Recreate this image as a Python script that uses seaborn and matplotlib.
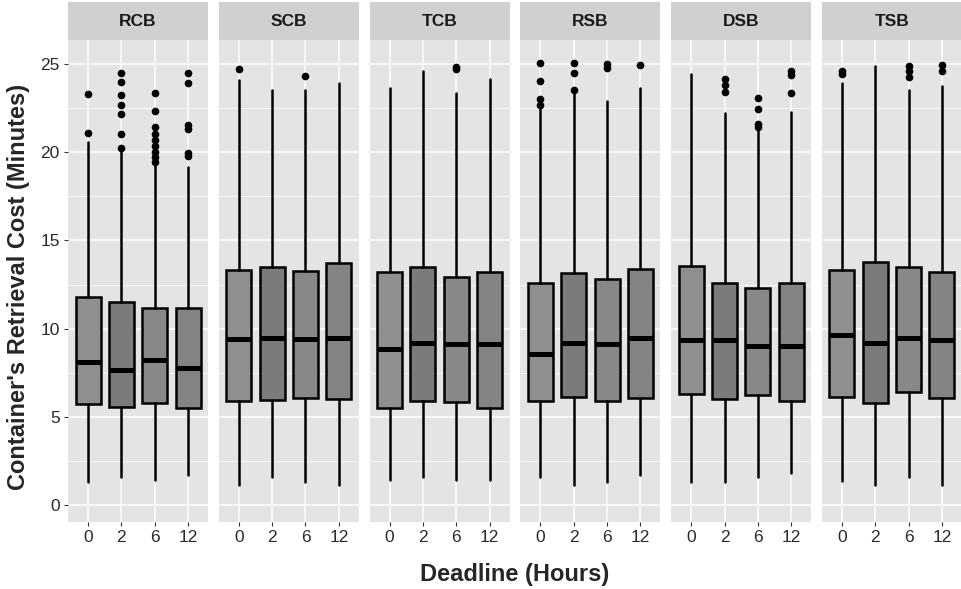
import matplotlib
matplotlib.use('Agg')
import matplotlib.pyplot as plt
from matplotlib.patches import Rectangle
import seaborn as sns

# Retrieval cost summary per method (rows) and deadline (columns)
methods = ['RCB', 'SCB', 'TCB', 'RSB', 'DSB', 'TSB']
deadlines = ['0', '2', '6', '12']

medians = [
    [8.09, 7.65, 8.22, 7.75],
    [9.39, 9.45, 9.39, 9.45],
    [8.83, 9.17, 9.11, 9.11],
    [8.54, 9.17, 9.11, 9.45],
    [9.35, 9.35, 9.01, 9.01],
    [9.64, 9.17, 9.45, 9.35],
]
q3s = [
    [11.81, 11.49, 11.15, 11.15],
    [13.32, 13.51, 13.28, 13.74],
    [13.23, 13.47, 12.90, 13.19],
    [12.57, 13.13, 12.79, 13.36],
    [13.57, 12.57, 12.32, 12.57],
    [13.32, 13.79, 13.47, 13.23],
]
q1s = [
    [5.71, 5.57, 5.80, 5.48],
    [5.91, 5.95, 6.10, 6.03],
    [5.52, 5.91, 5.82, 5.52],
    [5.91, 6.14, 5.91, 6.05],
    [6.29, 5.99, 6.24, 5.91],
    [6.14, 5.80, 6.42, 6.08],
]
whisk_lo = [
    [1.32, 1.61, 1.42, 1.70],
    [1.17, 1.61, 1.32, 1.13],
    [1.42, 1.61, 1.42, 1.42],
    [1.61, 1.17, 1.32, 1.70],
    [1.32, 1.32, 1.61, 1.80],
    [1.38, 1.13, 1.61, 1.17],
]
whisk_hi = [
    [20.60, 20.10, 19.27, 19.18],
    [24.10, 23.50, 23.50, 23.90],
    [23.62, 24.57, 23.34, 24.13],
    [22.48, 23.43, 22.87, 23.66],
    [24.43, 22.24, 21.30, 22.30],
    [23.94, 24.89, 23.53, 23.77],
]
outliers = [
    [[23.30, 21.07], [24.47, 24.0, 23.24, 22.68, 22.17, 21.0, 20.26],
     [23.34, 22.34, 21.41, 21.03, 20.69, 20.35, 20.03, 19.75, 19.46],
     [24.47, 23.9, 21.54, 21.3, 19.94, 19.8]],
    [[24.7], [], [24.34], []],
    [[], [], [24.85, 24.7], []],
    [[25.04, 24.04, 23.0, 22.68], [25.04, 24.51, 23.53], [25.0, 24.75], [24.94]],
    [[], [24.13, 23.81, 23.43], [23.05, 22.43, 21.6, 21.41], [24.57, 24.38, 23.34]],
    [[24.62, 24.43], [], [24.89, 24.57, 24.28], [24.94, 24.57]],
]

box_fills = ['#8f8f8f', '#7b7b7b', '#888888', '#838383']

sns.set_theme(style='darkgrid', rc={
    'axes.facecolor': '#e4e4e4',
    'grid.color': 'white',
})
plt.rcParams['font.family'] = ['Liberation Sans', 'DejaVu Sans']

fig, axes = plt.subplots(1, 6, figsize=(9.62, 5.89), dpi=100, sharey=True)
fig.subplots_adjust(left=0.0707, right=1.0, top=0.932, bottom=0.1138, wspace=0.077)

for i, ax in enumerate(axes):
    stats = []
    for j in range(len(deadlines)):
        stats.append({
            'med': medians[i][j], 'q1': q1s[i][j], 'q3': q3s[i][j],
            'whislo': whisk_lo[i][j], 'whishi': whisk_hi[i][j],
            'fliers': outliers[i][j], 'label': deadlines[j],
        })
    bp = ax.bxp(stats, positions=range(1, 5), widths=0.75, patch_artist=True,
                showcaps=False,
                boxprops=dict(edgecolor='black', linewidth=1.8),
                medianprops=dict(color='black', linewidth=3.6, solid_capstyle='butt'),
                whiskerprops=dict(color='black', linewidth=1.8),
                flierprops=dict(marker='o', markerfacecolor='black',
                                markeredgecolor='black', markersize=4.5))
    for patch, col in zip(bp['boxes'], box_fills):
        patch.set_facecolor(col)

    ax.set_xlim(0.4, 4.6)
    ax.set_ylim(-0.95, 26.35)
    ax.set_yticks([0, 5, 10, 15, 20, 25])
    ax.set_yticks([2.5, 7.5, 12.5, 17.5, 22.5], minor=True)
    ax.grid(which='major', color='white', linewidth=1.1)
    ax.grid(which='minor', axis='y', color='white', linewidth=0.5)
    ax.set_xticks(range(1, 5))
    ax.set_xticklabels(deadlines)
    ax.tick_params(axis='x', length=3, width=0.8, color='#333333', colors='#2a2a2a',
                   labelsize=12.5, pad=3, bottom=True)
    ax.tick_params(axis='y', which='major', length=3, width=0.8, color='#333333',
                   colors='#2a2a2a', labelsize=12.5, pad=3, left=(i == 0))
    ax.tick_params(axis='y', which='minor', length=0)
    for sp in ax.spines.values():
        sp.set_visible(False)

    # facet strip
    ax.add_patch(Rectangle((0, 1.0), 1, 0.079, transform=ax.transAxes,
                           facecolor='#d0d0d0', edgecolor='none', clip_on=False))
    ax.text(0.5, 1.0395, methods[i], transform=ax.transAxes, ha='center', va='center',
            fontsize=12.5, fontweight='bold', color='#1a1a1a')

fig.text(0.535, 0.024, 'Deadline (Hours)', ha='center', va='center',
         fontsize=17, fontweight='bold')
fig.text(0.019, 0.513, "Container's Retrieval Cost (Minutes)", ha='center', va='center',
         rotation=90, fontsize=17, fontweight='bold')

fig.savefig('out.png', dpi=100)
